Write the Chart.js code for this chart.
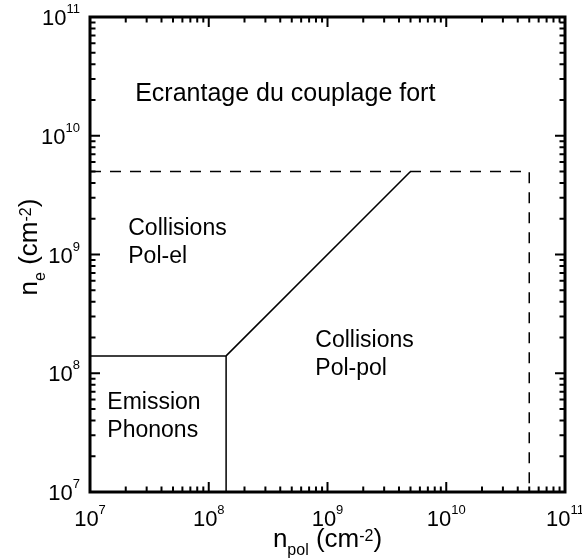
<!DOCTYPE html>
<html>
<head>
<meta charset="utf-8">
<script src="https://cdn.jsdelivr.net/npm/chart.js@4"></script>
<style>
  body { margin: 0; background: #fff; }
  #wrap { width: 582px; height: 559px; }
</style>
</head>
<body>
<div id="wrap"><canvas id="myChart"></canvas></div>
<script>
const ctx = document.getElementById("myChart")

// decade ticks (same on both axes) and their exponents
const tickValues = [1e7, 1e8, 1e9, 1e10, 1e11]
const tickExponents = ['7', '8', '9', '10', '11']

// regime boundaries
const phononEdge = [
  { x: 1e7, y: 1.4e8 },
  { x: 1.4e8, y: 1.4e8 },
  { x: 1.4e8, y: 1e7 }
]
const polPolEdge = [
  { x: 1.4e8, y: 1.4e8 },
  { x: 5e9, y: 5e9 }
]
const screeningEdge = [
  { x: 1e7, y: 5e9 },
  { x: 5e10, y: 5e9 },
  { x: 5e10, y: 1e7 }
]

// region names and where they sit (data coords of first line, left/baseline)
const regionNames = [
  ['Ecrantage du couplage fort'],
  ['Collisions', 'Pol-el'],
  ['Collisions', 'Pol-pol'],
  ['Emission', 'Phonons']
]
const regionAnchors = [
  { x: 2.4e7, y: 1.96e10 },
  { x: 2.1e7, y: 1.46e9 },
  { x: 7.9e8, y: 1.66e8 },
  { x: 1.4e7, y: 5e7 }
]

const FONT = '"Liberation Sans", Arial, sans-serif'

// draw a run of [text, size, baselineShift] pieces starting at x
function drawRuns(c, runs, x, y) {
  runs.forEach(r => {
    c.font = r[1] + 'px ' + FONT
    c.fillText(r[0], x, y + r[2])
    x += c.measureText(r[0]).width
  })
}
function runsWidth(c, runs) {
  let w = 0
  runs.forEach(r => {
    c.font = r[1] + 'px ' + FONT
    w += c.measureText(r[0]).width
  })
  return w
}

const framePlugin = {
  id: 'frame',
  afterDraw(chart) {
    const c = chart.ctx
    const a = chart.chartArea
    const xs = chart.scales.x
    const ys = chart.scales.y
    c.save()
    c.strokeStyle = '#000'
    c.fillStyle = '#000'

    // inward ticks on all four sides
    c.lineWidth = 2
    for (let d = 7; d <= 11; d++) {
      for (let m = 1; m <= 9; m++) {
        const v = m * Math.pow(10, d)
        if (v > 1e11) break
        const len = m === 1 ? 10 : 5.5
        const px = xs.getPixelForValue(v)
        const py = ys.getPixelForValue(v)
        c.beginPath()
        c.moveTo(px, a.bottom); c.lineTo(px, a.bottom - len)
        c.moveTo(px, a.top); c.lineTo(px, a.top + len)
        c.moveTo(a.left, py); c.lineTo(a.left + len, py)
        c.moveTo(a.right, py); c.lineTo(a.right - len, py)
        c.stroke()
      }
    }

    // frame
    c.lineWidth = 3
    c.strokeRect(a.left, a.top, a.right - a.left, a.bottom - a.top)

    // tick labels 10^n
    c.textAlign = 'left'
    c.textBaseline = 'alphabetic'
    tickValues.forEach((v, i) => {
      const runs = [['10', 22, 0], [tickExponents[i], 13, -12]]
      const w = runsWidth(c, runs)
      const px = xs.getPixelForValue(v)
      drawRuns(c, runs, px - w / 2, a.bottom + 34)
      const py = ys.getPixelForValue(v)
      drawRuns(c, runs, a.left - 10 - w, py + 8)
    })

    // axis titles
    const xTitle = [['n', 26, 0], ['pol', 16, 8], [' (cm', 26, 0], ['-2', 16, -6], [')', 26, 0]]
    const xw = runsWidth(c, xTitle)
    drawRuns(c, xTitle, (a.left + a.right) / 2 - xw / 2, a.bottom + 55)

    const yTitle = [['n', 26, 0], ['e', 16, 8], [' (cm', 26, 0], ['-2', 16, -6], [')', 26, 0]]
    const yw = runsWidth(c, yTitle)
    c.save()
    c.translate(37, 247)
    c.rotate(-Math.PI / 2)
    drawRuns(c, yTitle, -yw / 2, 0)
    c.restore()

    // region names
    regionNames.forEach((lines, i) => {
      const px = xs.getPixelForValue(regionAnchors[i].x)
      const py = ys.getPixelForValue(regionAnchors[i].y)
      c.font = (i === 0 ? 25 : 23) + 'px ' + FONT
      lines.forEach((t, k) => c.fillText(t, px, py + k * 28))
    })
    c.restore()
  }
}

const lineSet = (pts, dash) => ({
  data: pts,
  showLine: true,
  borderColor: '#000',
  borderWidth: 1.5,
  borderDash: dash,
  pointRadius: 0,
  fill: false
})

const config = {
  type: 'scatter',
  data: {
    datasets: [
      lineSet(phononEdge, []),
      lineSet(polPolEdge, []),
      lineSet(screeningEdge, [11, 9])
    ]
  },
  options: {
    responsive: true,
    maintainAspectRatio: false,
    animation: false,
    layout: { padding: { left: 90, right: 17, top: 17, bottom: 67 } },
    plugins: {
      legend: { display: false },
      tooltip: { enabled: false }
    },
    scales: {
      x: { type: 'logarithmic', min: 1e7, max: 1e11, display: false },
      y: { type: 'logarithmic', min: 1e7, max: 1e11, display: false }
    }
  },
  plugins: [framePlugin]
}

const myChart = new Chart(ctx, config)
</script>
</body>
</html>
